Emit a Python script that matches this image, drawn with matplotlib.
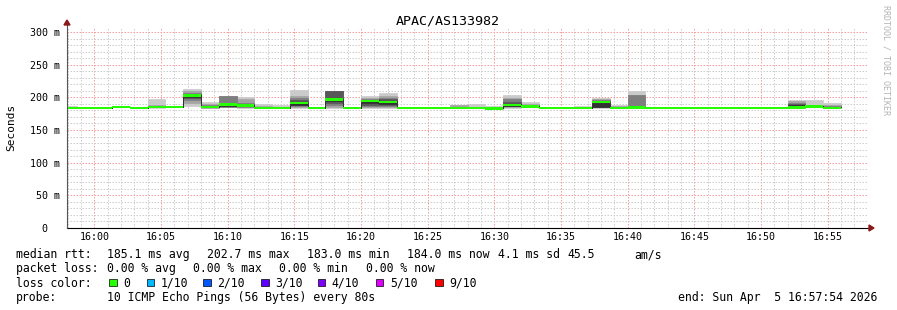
import numpy as np
import matplotlib
matplotlib.use("Agg")
import matplotlib.pyplot as plt
from matplotlib.patches import Rectangle, Polygon
from matplotlib.ticker import MultipleLocator, FuncFormatter

W, H = 897, 310
MONO = "DejaVu Sans Mono"

# ── data: one row per 80 s step, x in minutes after 16:00 ────────────────────
STEP = 4 / 3           # 80 s
T0 = -8 / 3            # start of first step (15:57:20)

median = [183.5, 183.3, 183.3, 185.0, 183.3, 185.5, 185.2, 202.7, 185.5, 189.0,
          187.5, 184.2, 183.3, 190.8, 184.2, 196.7, 183.5, 194.0, 193.0, 183.3,
          183.3, 183.3, 183.8, 183.8, 183.0, 188.5, 185.8, 183.8, 183.8, 183.8,
          192.6, 184.0, 184.3, 183.8, 183.8, 183.8, 183.8, 183.8, 183.8, 183.8,
          183.8, 184.5, 186.0, 184.0]

qa = [183.0, 183.1, 183.2, 183.3, 183.3, 183.3, 183.4, 183.5, 183.6, 183.8]
qb = [183.5, 183.6, 183.7, 183.8, 183.8, 183.8, 183.9, 184.0, 184.1, 184.3]

# 10 sorted pings per step (ms)
pings = [
    [183.0, 183.2, 183.3, 183.4, 183.5, 183.5, 183.7, 184.0, 185.0, 186.7],
    qa, qa,
    [184.5, 184.6, 184.8, 184.9, 185.0, 185.0, 185.1, 185.3, 185.5, 186.0],
    qa,
    [184.0, 184.5, 185.0, 185.2, 185.4, 185.6, 186.0, 186.5, 187.5, 197.5],
    [184.8, 184.9, 185.0, 185.1, 185.2, 185.2, 185.3, 185.4, 185.5, 185.8],
    [187.0, 192.0, 196.0, 199.0, 200.3, 203.5, 205.0, 207.0, 209.0, 212.8],
    [183.5, 184.0, 184.5, 185.0, 185.3, 185.7, 186.5, 188.0, 190.0, 192.9],
    [184.5, 185.0, 185.5, 186.0, 186.3, 189.5, 190.5, 201.5, 201.8, 202.0],
    [184.0, 184.5, 185.0, 186.0, 186.5, 188.5, 189.5, 192.0, 198.0, 200.5],
    [183.5, 183.8, 184.0, 184.1, 184.2, 184.3, 184.5, 185.0, 186.5, 189.5],
    [183.0, 183.1, 183.2, 183.3, 183.3, 183.4, 183.6, 184.0, 185.5, 188.0],
    [184.0, 185.0, 186.5, 187.8, 188.3, 192.0, 196.5, 198.5, 202.0, 211.2],
    [183.8, 183.9, 184.0, 184.1, 184.2, 184.2, 184.3, 184.4, 184.5, 184.8],
    [184.0, 185.0, 189.0, 192.0, 194.3, 198.0, 209.0, 209.3, 209.5, 209.7],
    [183.2, 183.3, 183.4, 183.5, 183.5, 183.5, 183.6, 183.7, 183.8, 184.0],
    [184.0, 185.0, 186.0, 188.0, 191.5, 195.3, 196.0, 197.0, 198.5, 202.5],
    [184.0, 185.0, 187.0, 189.0, 190.3, 194.3, 197.0, 199.0, 202.0, 206.6],
    qa, qa, qa,
    [183.5, 183.6, 183.7, 183.8, 183.8, 183.9, 184.0, 184.5, 188.8, 188.8],
    [183.5, 183.6, 183.7, 183.8, 183.8, 183.9, 184.0, 184.5, 185.5, 189.8],
    [182.8, 182.9, 183.0, 183.0, 183.0, 183.1, 183.2, 183.5, 184.5, 187.0],
    [184.0, 185.0, 186.0, 186.3, 186.5, 189.8, 193.0, 197.0, 199.0, 204.0],
    [185.0, 185.3, 185.5, 185.7, 185.8, 186.0, 186.5, 187.5, 189.5, 192.9],
    qb, qb,
    [183.5, 183.6, 183.7, 183.8, 183.8, 183.9, 184.0, 184.3, 185.0, 186.7],
    [184.0, 184.5, 185.0, 185.3, 185.5, 192.0, 194.5, 196.0, 197.5, 199.0],
    [183.6, 183.7, 183.8, 183.9, 184.0, 184.0, 184.2, 185.0, 187.0, 187.8],
    [183.5, 183.7, 184.0, 184.2, 184.4, 184.8, 185.2, 203.6, 204.0, 209.7],
    qb, qb, qb, qb, qb, qb, qb, qb,
    [183.8, 184.0, 184.5, 186.0, 186.5, 188.8, 190.0, 192.0, 194.0, 196.0],
    [184.5, 185.0, 185.5, 185.8, 186.0, 186.0, 186.3, 187.0, 189.0, 196.0],
    [184.0, 184.2, 184.5, 184.8, 185.0, 185.2, 185.5, 186.0, 187.5, 191.3],
]

loss_labels = ["0", "1/10", "2/10", "3/10", "4/10", "5/10", "9/10"]
loss_colors = ["#26ff00", "#00b8ff", "#0059ff", "#5e00ff", "#7e00ff", "#dd00ff", "#ff0000"]

title = "APAC/AS133982"
legend_rtt = ["185.1 ms avg", "202.7 ms max", "183.0 ms min", "184.0 ms now",
              "4.1 ms sd", "45.5", "am/s"]
legend_loss = ["0.00 % avg", "0.00 % max", "0.00 % min", "0.00 % now"]
probe_text = "10 ICMP Echo Pings (56 Bytes) every 80s"
end_text = "end: Sun Apr  5 16:57:54 2026"


def fx(x):
    return x / W


def fy(y):
    return 1 - y / H


# ── figure ───────────────────────────────────────────────────────────────────
fig = plt.figure(figsize=(W / 100, H / 100), dpi=100, facecolor="white")
ax = fig.add_axes([fx(67), fy(228), 800 / W, 200 / H])
ax.set_facecolor("white")
ax.set_xlim(-2.05, 57.95)
ax.set_ylim(0, 306.1)

ax.xaxis.set_major_locator(MultipleLocator(5))
ax.xaxis.set_minor_locator(MultipleLocator(1))
ax.yaxis.set_major_locator(MultipleLocator(50))
ax.yaxis.set_minor_locator(MultipleLocator(10))
ax.grid(which="minor", color="#cfcfcf", lw=0.72, ls=(0, (1.5, 1.5)))
ax.grid(which="major", color="#f4a0a0", lw=0.72, ls=(0, (1.5, 1.5)))
ax.set_axisbelow(True)

ax.xaxis.set_major_formatter(FuncFormatter(lambda v, p: f"16:{int(round(v)):02d}"))
ax.yaxis.set_major_formatter(FuncFormatter(lambda v, p: "0  " if v == 0 else f"{int(v)} m"))
ax.tick_params(axis="x", which="both", length=0, pad=3, labelsize=7.2)
ax.tick_params(axis="y", which="both", length=0, pad=5, labelsize=7.2)
for lab in ax.get_xticklabels() + ax.get_yticklabels():
    lab.set_family(MONO)
for s in ax.spines.values():
    s.set_visible(False)

# ── smoke + median ───────────────────────────────────────────────────────────
P = np.array(pings)
edges = T0 + STEP * np.arange(len(median) + 1)
half = P.shape[1] // 2
for k in range(half):
    g = int(190 / half * (half - (k + 1))) + 50
    col = f"#{g:02x}{g:02x}{g:02x}"
    lo = np.append(P[:, k], P[-1, k])
    hi = np.append(P[:, -1 - k], P[-1, -1 - k])
    ax.fill_between(edges, lo, hi, step="post", facecolor=col, edgecolor=col,
                    lw=0.5, zorder=2 + k)

med = np.append(median, median[-1])
ax.fill_between(edges, med - 1.7, med + 1.7, step="post", color=loss_colors[0],
                lw=0, zorder=9)

# ── axes with arrows ─────────────────────────────────────────────────────────
ax.plot([0, 1.004], [0, 0], transform=ax.transAxes, color="black", lw=0.8,
        clip_on=False, zorder=12)
ax.plot([0, 0], [0, 1.02], transform=ax.transAxes, color="#555555", lw=0.8,
        clip_on=False, zorder=12)
arrow_col = "#8b1a1a"
fig.patches.append(Polygon([(fx(869), fy(225)), (fx(874), fy(228)), (fx(869), fy(231))],
                           closed=True, transform=fig.transFigure, color=arrow_col))
fig.patches.append(Polygon([(fx(64), fy(25)), (fx(67), fy(20)), (fx(70), fy(25))],
                           closed=True, transform=fig.transFigure, color=arrow_col))

# ── texts ────────────────────────────────────────────────────────────────────
fig.text(fx(448), fy(24), title, ha="center", va="baseline", family=MONO, size=9.6)
fig.text(fx(11), fy(127), "Seconds", rotation=90, ha="center", va="center",
         family=MONO, size=8)
fig.text(fx(886), fy(5), "RRDTOOL / TOBI OETIKER", rotation=270, ha="center",
         va="top", family=MONO, size=6, color="#b4b4b4")

LS = 8.3
rtt_x = [107, 207, 307, 406.5, 498, 567, 634]
fig.text(fx(16), fy(258.3), "median rtt:", family=MONO, size=LS, va="baseline")
for s, x in zip(legend_rtt, rtt_x):
    fig.text(fx(x), fy(258.3), s, family=MONO, size=LS, va="baseline")

loss_x = [107, 193, 279, 365.5]
fig.text(fx(16), fy(272.3), "packet loss:", family=MONO, size=LS, va="baseline")
for s, x in zip(legend_loss, loss_x):
    fig.text(fx(x), fy(272.3), s, family=MONO, size=LS, va="baseline")

sq_x = [109, 146.7, 203.3, 261, 317.7, 375.7, 435]
fig.text(fx(16), fy(286.7), "loss color:", family=MONO, size=LS, va="baseline")
for s, c, x in zip(loss_labels, loss_colors, sq_x):
    fig.patches.append(Rectangle((fx(x), fy(286)), 7.5 / W, 7.5 / H,
                                 transform=fig.transFigure, facecolor=c,
                                 edgecolor="black", lw=0.5))
    fig.text(fx(x + 14.2), fy(286.7), s, family=MONO, size=LS, va="baseline")

fig.text(fx(16), fy(300.7), "probe:", family=MONO, size=LS, va="baseline")
fig.text(fx(107), fy(300.7), probe_text, family=MONO, size=LS, va="baseline")
fig.text(fx(677.5), fy(300.7), end_text, family=MONO, size=LS, va="baseline")

fig.savefig("out.png", dpi=100, facecolor="white")
